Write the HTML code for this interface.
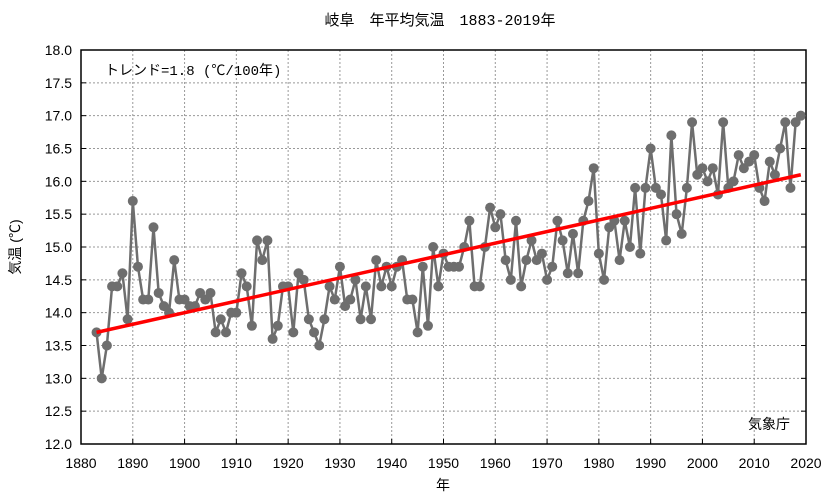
<!DOCTYPE html><html><head><meta charset="utf-8"><style>body{margin:0;background:#fff}svg{display:block}</style></head><body>
<svg id="s" width="833" height="498" xmlns="http://www.w3.org/2000/svg" font-family="'Liberation Sans','Noto Sans CJK JP',sans-serif" font-size="14"></svg>
<script>
const L=81,R=806,T=50,B=444;
const X=y=>L+(y-1880)*(R-L)/140, Y=v=>B-(v-12)*(B-T)/6;
const d=[13.7,13.0,13.5,14.4,14.4,14.6,13.9,15.7,14.7,14.2,14.2,15.3,14.3,14.1,14.0,14.8,14.2,14.2,14.1,14.1,14.3,14.2,14.3,13.7,13.9,13.7,14.0,14.0,14.6,14.4,13.8,15.1,14.8,15.1,13.6,13.8,14.4,14.4,13.7,14.6,14.5,13.9,13.7,13.5,13.9,14.4,14.2,14.7,14.1,14.2,14.5,13.9,14.4,13.9,14.8,14.4,14.7,14.4,14.7,14.8,14.2,14.2,13.7,14.7,13.8,15.0,14.4,14.9,14.7,14.7,14.7,15.0,15.4,14.4,14.4,15.0,15.6,15.3,15.5,14.8,14.5,15.4,14.4,14.8,15.1,14.8,14.9,14.5,14.7,15.4,15.1,14.6,15.2,14.6,15.4,15.7,16.2,14.9,14.5,15.3,15.4,14.8,15.4,15.0,15.9,14.9,15.9,16.5,15.9,15.8,15.1,16.7,15.5,15.2,15.9,16.9,16.1,16.2,16.0,16.2,15.8,16.9,15.9,16.0,16.4,16.2,16.3,16.4,15.9,15.7,16.3,16.1,16.5,16.9,15.9,16.9,17.0];
let h='';
for(let i=1;i<14;i++){const x=X(1880+i*10);h+=`<line x1="${x}" y1="${T}" x2="${x}" y2="${B}" stroke="#999" stroke-dasharray="2,2"/>`;}
for(let i=1;i<12;i++){const y=Y(12+i*0.5);h+=`<line x1="${L}" y1="${y}" x2="${R}" y2="${y}" stroke="#999" stroke-dasharray="2,2"/>`;}
for(let i=0;i<=12;i++){const v=12+i*0.5,y=Y(v);h+=`<line x1="${L}" y1="${y}" x2="${L+5}" y2="${y}" stroke="#000"/><line x1="${R-5}" y1="${y}" x2="${R}" y2="${y}" stroke="#000"/><text x="72" y="${y+5}" text-anchor="end">${v.toFixed(1)}</text>`;}
for(let i=0;i<=14;i++){const x=X(1880+i*10);h+=`<line x1="${x}" y1="${B}" x2="${x}" y2="${B-5}" stroke="#000"/><text x="${x}" y="468" text-anchor="middle">${1880+i*10}</text>`;}
h+=`<rect x="${L}" y="${T}" width="${R-L}" height="${B-T}" fill="none" stroke="#000" stroke-width="1.5"/>`;
h+=`<polyline fill="none" stroke="#6e6e6e" stroke-width="2.5" points="${d.map((v,i)=>X(1883+i)+','+Y(v)).join(' ')}"/>`;
d.forEach((v,i)=>h+=`<circle cx="${X(1883+i)}" cy="${Y(v)}" r="5" fill="#6e6e6e"/>`);
h+=`<line x1="${X(1883)}" y1="${Y(13.7)}" x2="${X(2019)}" y2="${Y(16.1)}" stroke="#f00" stroke-width="3.5"/>`;
h+=`<text x="440" y="25" text-anchor="middle" font-size="15" font-family="'Liberation Mono','Noto Sans CJK JP',monospace">岐阜　年平均気温　1883-2019年</text>`;
h+=`<text x="105" y="75" font-size="14" font-family="'Liberation Mono','Noto Sans CJK JP',monospace">トレンド=1.8 (℃/100年)</text>`;
h+=`<text x="790" y="429" text-anchor="end">気象庁</text>`;
h+=`<text x="443" y="490" text-anchor="middle">年</text>`;
h+=`<text transform="translate(20,247) rotate(-90)" text-anchor="middle">気温 (℃)</text>`;
document.getElementById('s').innerHTML=h;
</script></body></html>
